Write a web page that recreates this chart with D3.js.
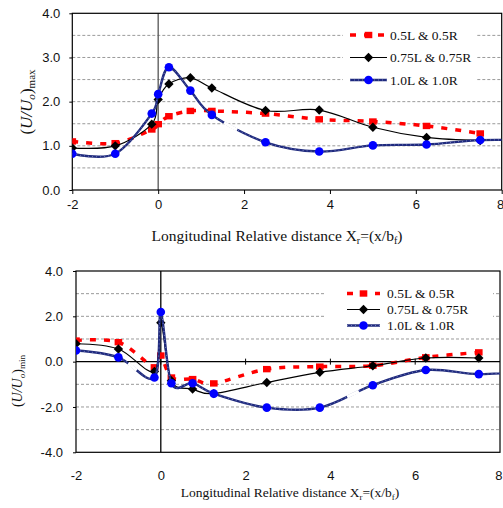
<!DOCTYPE html>
<html><head><meta charset="utf-8">
<script src="https://cdn.jsdelivr.net/npm/d3@7"></script>
<style>body{margin:0;background:#fff}svg{display:block}</style>
</head><body>
<svg id="c" width="503" height="508"></svg>
<script>
// ---- data ----
const xVals = [-2, -1, -0.15, 0, 0.25, 0.75, 1.25, 2.5, 3.75, 5, 6.25, 7.5];
const xValsBlue = [-2, -1, -0.15, 0, 0.25, 0.75, 1.25, 2.5, 3.75, 5, 6.25, 7.5, 8.75];
const seriesNames = ["0.5L & 0.5R", "0.75L & 0.75R", "1.0L & 1.0R"];
const maxRed   = [1.10, 1.06, 1.37, 1.49, 1.67, 1.79, 1.79, 1.73, 1.60, 1.55, 1.45, 1.28];
const maxBlack = [0.95, 1.00, 1.49, 2.05, 2.40, 2.54, 2.31, 1.80, 1.81, 1.42, 1.19, 1.12];
const maxBlue  = [0.82, 0.82, 1.73, 2.17, 2.78, 2.25, 1.70, 1.08, 0.87, 1.01, 1.03, 1.13, 1.12];
const minRed   = [0.93, 0.86, -0.25, 0.27, -0.70, -0.77, -0.96, -0.33, -0.22, -0.18, 0.19, 0.41];
const minBlack = [0.79, 0.56, -0.43, 1.72, -0.84, -1.21, -1.41, -0.92, -0.47, -0.18, 0.16, 0.16];
const minBlue  = [0.49, 0.19, -0.70, 2.19, -0.95, -0.95, -1.41, -2.03, -2.03, -1.04, -0.37, -0.55, -0.40];
const xTicks = [-2, 0, 2, 4, 6, 8];
const maxYTicks = [0, 1, 2, 3, 4];
const maxYGrid = [0.5, 1, 1.5, 2, 2.5, 3, 3.5];
const minYTicks = [-4, -2, 0, 2, 4];
const minYGrid = [-3, -2, -1, 1, 2, 3];
const maxBlueGaps = [[1.52, 1.83]];
const minBlueGaps = [[-0.77, -0.57], [4.38, 4.66]];

const svg = d3.select("#c");
const curve = d3.curveCardinal.tension(0);
const hy = f => d => f(d).replace("\u2212", "-");
const BLUE_LINE = "#1f2a7e", BLUE_TEX = "#8a93c8";

function drawPanel(cfg) {
  const {L, R, T, B, yDom, yTicks, yGrid, series, legend, gaps, zeroLine, id} = cfg;
  const x = d3.scaleLinear().domain([-2, 8]).range([L, R]);
  const y = d3.scaleLinear().domain(yDom).range([B, T]);
  const g = svg.append("g");
  g.append("clipPath").attr("id", id).append("rect")
    .attr("x", L).attr("y", T).attr("width", R - L).attr("height", B - T);

  g.selectAll(".gr").data(yGrid).join("line")
    .attr("x1", L).attr("x2", R).attr("y1", d => y(d)).attr("y2", d => y(d))
    .attr("stroke", "#9a9a9a").attr("stroke-width", 1).attr("stroke-dasharray", "3,2");

  g.append("line").attr("x1", x(0)).attr("x2", x(0)).attr("y1", T).attr("y2", B)
    .attr("stroke", zeroLine ? "#000" : "#555").attr("stroke-width", 1.3);
  if (zeroLine) {
    g.append("line").attr("x1", L).attr("x2", R).attr("y1", y(0)).attr("y2", y(0))
      .attr("stroke", "#000").attr("stroke-width", 1.2);
    g.selectAll(".zt").data(xTicks.slice(1, -1)).join("line")
      .attr("x1", d => x(d)).attr("x2", d => x(d)).attr("y1", y(0) - 3).attr("y2", y(0) + 3)
      .attr("stroke", "#000");
  }

  const xa = g.append("g").attr("transform", `translate(0,${B})`)
    .call(d3.axisBottom(x).tickValues(xTicks).tickSize(zeroLine ? 0 : 4).tickSizeOuter(0).tickPadding(zeroLine ? 18 : 6).tickFormat(hy(d3.format("d"))));
  const ya = g.append("g").attr("transform", `translate(${L},0)`)
    .call(d3.axisLeft(y).tickValues(yTicks).tickSize(3).tickSizeOuter(0).tickPadding(zeroLine ? 10 : 9).tickFormat(hy(d3.format(".1f"))));
  [xa, ya].forEach(a => {
    a.selectAll("text").attr("font-family", "Liberation Sans, Arial, sans-serif").attr("font-size", 13).attr("fill", "#111");
    a.select(".domain").remove();
  });
  // keep last x label inside the page
  xa.selectAll(".tick").filter(d => d === 8).select("text").attr("text-anchor", "end").attr("dx", 2);

  g.append("rect").attr("x", L).attr("y", T).attr("width", R - L).attr("height", B - T)
    .attr("fill", "none").attr("stroke", "#000").attr("stroke-width", 1.2);

  g.append("rect").attr("x", legend.bx).attr("y", legend.by).attr("width", legend.bw).attr("height", legend.bh)
    .attr("fill", "#fff");

  const plot = g.append("g").attr("clip-path", `url(#${id})`);
  const line = d3.line().x(d => x(d[0])).y(d => y(d[1])).curve(curve);

  series.forEach((s, i) => {
    const pts = s.xs.map((xv, j) => [xv, s.vals[j]]);
    if (s.type === "red") {
      plot.append("path").attr("d", line(pts)).attr("fill", "none")
        .attr("stroke", "#ff0000").attr("stroke-width", 3.5).attr("stroke-dasharray", "6,8");
      plot.selectAll(".rm").data(pts).join("rect")
        .attr("x", d => x(d[0]) - 3.8).attr("y", d => y(d[1]) - 3.2).attr("width", 7.6).attr("height", 6.4)
        .attr("fill", "#ff0000");
    } else if (s.type === "black") {
      plot.append("path").attr("d", line(pts)).attr("fill", "none")
        .attr("stroke", "#000").attr("stroke-width", 1.2);
      plot.selectAll(".bm").data(pts).join("path")
        .attr("d", d3.symbol(d3.symbolDiamond2, 56)())
        .attr("transform", d => `translate(${x(d[0])},${y(d[1])})`).attr("fill", "#000");
    } else {
      const p = plot.append("path").attr("d", line(pts)).attr("fill", "none")
        .attr("stroke", BLUE_LINE).attr("stroke-width", 2.4);
      plot.append("path").attr("d", line(pts)).attr("fill", "none")
        .attr("stroke", BLUE_TEX).attr("stroke-width", 0.8).attr("stroke-dasharray", "1,3");
      const node = p.node(), total = node.getTotalLength();
      const lenAtX = xv => {
        const px = x(xv);
        for (let l = 0; l <= total; l += 0.5) { if (node.getPointAtLength(l).x >= px) return l; }
        return total;
      };
      gaps.forEach(([a, b]) => {
        const la = lenAtX(a), lb = lenAtX(b);
        plot.append("path").attr("d", line(pts)).attr("fill", "none").attr("stroke", "#fff").attr("stroke-width", 3.2)
          .attr("stroke-dasharray", `0,${la},${lb - la},${total}`);
      });
      plot.selectAll(".cm").data(pts).join("circle")
        .attr("cx", d => x(d[0])).attr("cy", d => y(d[1])).attr("r", 4.3).attr("fill", "#0000ff");
    }
  });

  series.forEach((s, i) => {
    const yy = legend.y0 + i * legend.dy;
    const mx = (legend.lx1 + legend.lx2) / 2;
    const lg = g.append("g");
    if (s.type === "red") {
      lg.append("line").attr("x1", legend.lx1).attr("x2", legend.lx2).attr("y1", yy).attr("y2", yy)
        .attr("stroke", "#ff0000").attr("stroke-width", 3.5).attr("stroke-dasharray", "6,8");
      lg.append("rect").attr("x", mx - 3.8).attr("y", yy - 3.2).attr("width", 7.6).attr("height", 6.4).attr("fill", "#ff0000");
    } else if (s.type === "black") {
      lg.append("line").attr("x1", legend.lx1).attr("x2", legend.lx2).attr("y1", yy).attr("y2", yy)
        .attr("stroke", "#000").attr("stroke-width", 1.2);
      lg.append("path").attr("d", d3.symbol(d3.symbolDiamond2, 56)())
        .attr("transform", `translate(${mx},${yy})`);
    } else {
      lg.append("line").attr("x1", legend.lx1).attr("x2", legend.lx2).attr("y1", yy).attr("y2", yy)
        .attr("stroke", BLUE_LINE).attr("stroke-width", 2.4);
      lg.append("line").attr("x1", legend.lx1).attr("x2", legend.lx2).attr("y1", yy).attr("y2", yy)
        .attr("stroke", BLUE_TEX).attr("stroke-width", 0.8).attr("stroke-dasharray", "1,3");
      lg.append("circle").attr("cx", mx).attr("cy", yy).attr("r", 4.3).attr("fill", "#0000ff");
    }
    lg.append("text").attr("x", legend.tx).attr("y", yy + 4.5).text(seriesNames[i])
      .attr("font-family", "Liberation Serif, Times New Roman, serif").attr("font-size", legend.fs).attr("fill", "#111");
  });

  const xt = g.append("text").attr("x", cfg.xtX).attr("y", cfg.xtY).attr("text-anchor", "middle")
    .attr("font-family", "Liberation Serif, Times New Roman, serif").attr("font-size", cfg.xtFs).attr("fill", "#111");
  xt.append("tspan").text("Longitudinal Relative distance X");
  xt.append("tspan").text("r").attr("font-size", cfg.xtFs * 0.65).attr("dy", 3);
  xt.append("tspan").text("=(x/b").attr("dy", -3);
  xt.append("tspan").text("f").attr("font-size", cfg.xtFs * 0.65).attr("dy", 3);
  xt.append("tspan").text(")").attr("dy", -3);

  const yt = g.append("text").attr("transform", `translate(${cfg.ytX},${cfg.ytY}) rotate(-90)`).attr("text-anchor", "middle")
    .attr("font-family", "Liberation Serif, Times New Roman, serif").attr("font-size", cfg.ytFs).attr("fill", "#111");
  yt.append("tspan").text("(");
  yt.append("tspan").text("U/U").attr("font-style", "italic");
  yt.append("tspan").text("o").attr("font-style", "italic").attr("font-size", cfg.ytFs * 0.65).attr("dy", 3);
  yt.append("tspan").text(")").attr("dy", -3);
  yt.append("tspan").text(cfg.sub).attr("font-size", cfg.ytFs * 0.65).attr("dy", 3);
}

drawPanel({
  id: "clipTop", L: 72.3, R: 501.7, T: 13.3, B: 190, yDom: [0, 4], yTicks: maxYTicks, yGrid: maxYGrid,
  zeroLine: false, gaps: maxBlueGaps, sub: "max",
  series: [
    {type: "red", xs: xVals, vals: maxRed},
    {type: "black", xs: xVals, vals: maxBlack},
    {type: "blue", xs: xValsBlue, vals: maxBlue}
  ],
  legend: {bx: 343, by: 24, bw: 134, bh: 67, lx1: 350, lx2: 387, tx: 390, y0: 35, dy: 22.5, fs: 13.5},
  xtX: 277, xtY: 241, xtFs: 15.5, ytX: 32, ytY: 102, ytFs: 17
});

drawPanel({
  id: "clipBot", L: 76, R: 500, T: 271, B: 452.3, yDom: [-4, 4], yTicks: minYTicks, yGrid: minYGrid,
  zeroLine: true, gaps: minBlueGaps, sub: "min",
  series: [
    {type: "red", xs: xVals, vals: minRed},
    {type: "black", xs: xVals, vals: minBlack},
    {type: "blue", xs: xValsBlue, vals: minBlue}
  ],
  legend: {bx: 325, by: 283, bw: 168, bh: 50, lx1: 347, lx2: 380, tx: 387, y0: 293.5, dy: 16, fs: 13.5},
  xtX: 290, xtY: 497, xtFs: 13.5, ytX: 22, ytY: 381, ytFs: 14
});
</script>
</body></html>
